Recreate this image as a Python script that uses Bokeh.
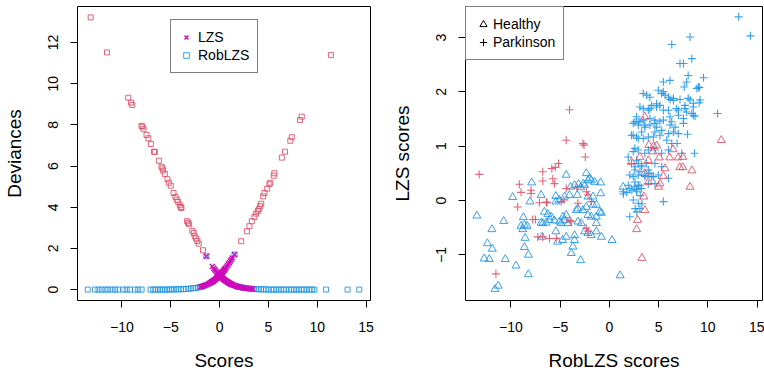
from bokeh.plotting import figure
from bokeh.layouts import row
from bokeh.models import FixedTicker, Legend, LegendItem, Range1d, CustomJSTickFormatter
from bokeh.embed import file_html
from bokeh.resources import INLINE

# ---------------- data ----------------
# Left panel: deviances vs scores
lzs_rise_score = [-1.95, -1.8, -1.65, -1.5, -1.4, -1.3, -1.2, -1.1, -1.0, -0.95,
                  -0.9, -0.85, -0.8, -0.75, -0.7, -0.65, -0.6, -0.55, -0.5, -0.45,
                  -0.4, -0.35, -0.3, -0.25, -0.2, -0.15, -0.1, -0.05, 0.0, 0.05,
                  0.1, 0.15, 0.2, 0.25, 0.3, 0.35, 0.4, 0.45, 0.5, 0.55,
                  0.6, 0.7, 0.8, 0.9, 1.0, 1.1, 1.2, 1.3, 1.53]
lzs_rise_dev = [0.13, 0.15, 0.18, 0.20, 0.22, 0.24, 0.26, 0.29, 0.31, 0.33,
                0.34, 0.36, 0.37, 0.39, 0.40, 0.42, 0.44, 0.46, 0.47, 0.49,
                0.51, 0.54, 0.55, 0.58, 0.60, 0.62, 0.64, 0.67, 0.69, 0.72,
                0.74, 0.77, 0.80, 0.83, 0.85, 0.88, 0.91, 0.94, 0.97, 1.0,
                1.04, 1.10, 1.17, 1.24, 1.31, 1.39, 1.46, 1.54, 1.70]
lzs_fall_score = [-1.36, -0.74, -0.6, -0.5, -0.4, -0.3, -0.2, -0.1, 0.0, 0.05,
                  0.1, 0.15, 0.2, 0.25, 0.3, 0.35, 0.4, 0.45, 0.5, 0.55,
                  0.6, 0.65, 0.7, 0.75, 0.8, 0.85, 0.9, 0.95, 1.0, 1.05,
                  1.1, 1.15, 1.2, 1.25, 1.3, 1.4, 1.5, 1.6, 1.7, 1.8,
                  1.9, 2.0, 2.1, 2.2, 2.3, 2.4, 2.5, 2.6, 2.75, 2.9,
                  3.05, 3.2, 3.4]
lzs_fall_dev = [1.62, 1.12, 1.04, 0.97, 0.91, 0.85, 0.80, 0.74, 0.69, 0.67,
                0.64, 0.62, 0.60, 0.58, 0.55, 0.53, 0.51, 0.49, 0.47, 0.46,
                0.44, 0.42, 0.40, 0.39, 0.37, 0.36, 0.34, 0.33, 0.31, 0.30,
                0.29, 0.27, 0.26, 0.25, 0.24, 0.22, 0.20, 0.18, 0.17, 0.15,
                0.14, 0.13, 0.12, 0.11, 0.10, 0.09, 0.08, 0.07, 0.06, 0.05,
                0.05, 0.04, 0.03]

rob_ok_score = [-13.5, -12.75, -12.4, -12.07, -11.7, -11.4, -11.05, -10.7, -10.37, -9.86,
                -9.52, -9.18, -8.67, -8.33, -7.99, -7.07, -6.8, -6.55, -6.3, -6.1,
                -5.85, -5.6, -5.4, -5.15, -4.9, -4.7, -4.45, -4.2, -3.95, -3.7,
                -3.45, -3.2, -2.95, -2.7, -2.45, -2.2, -2.0, -1.8, -1.6, -1.36,
                1.2, 1.53, 1.8, 2.1, 2.4, 2.7, 3.0, 3.3, 3.5, 3.75,
                4.0, 4.25, 4.5, 4.75, 5.0, 5.3, 5.55, 5.8, 6.05, 6.3,
                6.55, 6.8, 7.1, 7.35, 7.6, 7.85, 8.1, 8.4, 8.65, 8.9,
                9.2, 9.45, 9.7, 10.9, 13.1, 14.3]
rob_ok_dev = [0, 0, 0, 0, 0, 0, 0, 0, 0, 0,
              0, 0, 0, 0, 0, 0, 0, 0, 0, 0,
              0, 0, 0, 0, 0.01, 0.01, 0.01, 0.01, 0.02, 0.02,
              0.03, 0.04, 0.05, 0.07, 0.08, 0.1, 0.12, 0.15, 0.18, 1.62,
              0.26, 1.7, 0.15, 0.12, 0.09, 0.07, 0.05, 0.04, 0.03, 0.02,
              0.02, 0.01, 0.01, 0.01, 0, 0, 0, 0, 0, 0,
              0, 0, 0, 0, 0, 0, 0, 0, 0, 0,
              0, 0, 0, 0, 0, 0]

rob_bad_score = [-13.2, -11.53, -9.35, -9.08, -8.94, -7.99, -7.89, -7.79, -7.48, -7.3,
                 -7.04, -6.73, -6.63, -6.22, -5.95, -5.85, -5.78, -5.61, -5.34, -5.2,
                 -5.0, -4.72, -4.52, -4.39, -4.24, -4.08, -3.98, -3.91, -3.33, -3.22,
                 -3.12, -2.79, -2.65, -2.55, -2.41, -2.28, -2.14, -1.7,
                 2.21, 2.79, 3.06, 3.3, 3.57, 3.74, 3.91, 4.01, 4.15, 4.26,
                 4.46, 4.59, 4.87, 5.1, 5.2, 5.55, 5.61, 6.37, 6.7, 7.24,
                 7.39, 8.23, 8.41, 11.4]
rob_bad_dev = [13.22, 11.52, 9.32, 9.08, 8.97, 7.95, 7.91, 7.79, 7.51, 7.35,
               7.07, 6.7, 6.68, 6.26, 5.97, 5.89, 5.78, 5.62, 5.36, 5.19,
               5.05, 4.69, 4.5, 4.37, 4.26, 4.1, 4.01, 3.96, 3.32, 3.24,
               3.17, 2.85, 2.75, 2.59, 2.48, 2.36, 2.23, 1.91,
               2.35, 2.83, 3.08, 3.32, 3.53, 3.69, 3.82, 3.9, 4.05, 4.17,
               4.53, 4.69, 4.9, 5.12, 5.19, 5.53, 5.65, 6.41, 6.7, 7.23,
               7.4, 8.24, 8.4, 11.39]

# Right panel: RobLZS scores (x) vs LZS scores (y)
healthy_blue_x = [-13.47, -10.74, -11.94, -12.4, -11.9, -12.72, -12.2, -10.58, -9.49, -11.3,
                  -11.63, -9.83, -8.06, -7.9, -6.94, -8.74, -8.98, -8.64, -8.36, -8.8,
                  -6.77, -6.84, -8.57, -8.64, -8.23, -8.23, -4.39, -2.35, -3.95, -3.54,
                  -3.13, -2.93, -1.84, -1.5, -0.89, -0.89, -5.44, -5.44, -5.1, -4.56,
                  -4.05, -3.27, -2.17, -1.67, -1.33, -1.67, -6.6, -6.26, -6.94, -6.43,
                  -6.09, -5.92, -5.58, -5.07, -4.9, -4.56, -4.39, -4.21, -4.72, -3.37,
                  -3.2, -2.69, -2.35, -2.17, -1.84, -1.33, -0.99, -0.82, -3.2, -2.86,
                  -2.52, -2.17, -1.84, -1.33, -1.33, -5.44, -5.27, -4.76, -4.39, -3.54,
                  -3.54, -3.71, -3.88, -2.93, -0.82, 0.27, 1.09, -2.17, -2.0, -2.52,
                  -2.65, 1.39]
healthy_blue_y = [-0.28, -0.38, -0.53, -0.79, -0.89, -1.07, -1.08, -1.08, -1.2, -1.57,
                  -1.63, 0.06, -0.02, 0.33, 0.10, -0.31, -0.47, -0.45, -0.47, -0.53,
                  -0.42, -0.67, -0.69, -0.86, -1.0, -1.36, 0.47, 0.50, 0.25, 0.28,
                  0.30, 0.24, 0.37, 0.34, 0.33, 0.13, 0.08, -0.02, 0.01, 0.07,
                  0.10, 0.10, 0.07, 0.07, -0.08, -0.08, -0.21, -0.25, -0.41, -0.41,
                  -0.36, -0.30, -0.37, -0.39, -0.42, -0.36, -0.27, -0.42, -0.30, -0.18,
                  -0.15, -0.18, -0.12, -0.27, -0.30, -0.30, -0.21, -0.23, -0.39, -0.42,
                  -0.57, -0.60, -0.64, -0.42, -0.57, -0.57, -0.76, -0.73, -0.67, -0.64,
                  -0.73, -0.85, -0.97, -1.1, -0.67, -0.73, -1.38, 0.37, 0.41, 0.28,
                  0.31, 0.25]

healthy_red_x = [11.36, 3.6, 4.0, 4.5, 4.8, 4.42, 6.46, 6.12, 6.97, 7.14,
                 5.07, 3.95, 3.1, 2.24, 5.64, 5.47, 3.95, 5.13, 3.5, 3.6,
                 2.86, 2.76, 3.3, 7.45, 7.45, 8.37, 8.19, 5.0, 3.6]
healthy_red_y = [1.11, 1.54, 1.02, 1.0, 1.01, 0.90, 0.94, 0.79, 0.79, 0.61,
                 0.79, 0.74, 0.80, 0.71, 0.59, 0.45, 0.34, 0.31, 0.07, -0.18,
                 -0.36, -0.53, -1.06, 0.80, 0.61, 0.55, 0.25, 0.25, 0.5]

parkinson_red_x = [-13.23, -9.15, -8.98, -7.96, -7.96, -6.77, -6.77, -7.11, -9.32, -7.79,
                   -7.52, -7.28, -11.53, -4.39, -2.69, -2.58, -2.45, -5.17, -5.5, -5.85,
                   -5.75, -5.58, -6.33, -4.39, -3.27, -2.35, -2.17, -1.84, -3.2, -4.9,
                   -4.62, -3.88, -2.35, -2.17, -6.77, -6.09, -5.4, -4.05, -6.4, -4.0]
parkinson_red_y = [0.48, 0.30, 0.15, 0.19, 0.13, 0.53, 0.36, -0.04, -0.12, -0.35,
                   -0.35, -0.67, -1.35, 1.11, 1.05, 1.02, 0.80, 0.68, 0.61, 0.59,
                   0.40, 0.31, -0.04, 0.22, 0.23, 0.16, 0.10, -0.02, -0.05, -0.02,
                   0.01, -0.39, -0.51, -0.56, -0.67, -0.70, -0.70, 1.67, -0.03, -0.37]

parkinson_blue_x = [13.13, 14.32, 8.19, 6.33, 8.37, 7.17, 7.52, 8.0, 9.56, 7.84,
                    7.6, 8.88, 9.12, 5.48, 6.15, 3.44, 3.78, 4.11, 4.97, 5.31,
                    5.65, 5.99, 6.15, 6.5, 7.17, 8.0, 8.19, 9.21, 9.12, 8.52,
                    3.1, 3.44, 3.95, 4.11, 4.8, 5.13, 6.8, 7.0, 7.67, 7.84,
                    8.37, 8.52, 8.7, 10.99, 2.76, 2.59, 2.93, 3.44, 4.11, 4.62,
                    5.13, 5.48, 6.15, 6.33, 7.52, 8.52, 7.93, 8.64, 5.48, 4.29,
                    4.8, 5.48, 5.99, 6.5, 7.67, 9.05, 2.93, 3.6, 4.11, 4.62,
                    7.0, 2.42, 2.93, 3.27, 3.95, 4.62, 5.31, 5.99, 6.5, 7.0,
                    2.59, 2.93, 3.6, 3.95, 4.62, 5.31, 5.99, 7.35, 6.87, 1.91,
                    2.24, 2.59, 3.27, 3.95, 4.62, 5.31, 2.42, 2.93, 3.6, 4.29,
                    4.97, 5.99, 1.91, 2.59, 3.1, 3.95, 4.62, 2.42, 3.1, 3.6,
                    4.8, 6.15, 6.67, 7.52, 2.24, 2.76, 3.44, 4.46, 5.13, 5.82,
                    6.33, 2.42, 2.76, 2.93, 3.27, 3.78, 2.59, 3.1, 2.07, 3.6,
                    4.11, 4.46, 2.59, 2.93, 3.27, 2.07, 1.39, 2.76, 2.42, 2.93,
                    3.1, 2.07, 5.48, 2.62, 2.79, 3.3, 3.13, 2.79, 2.28, 1.77,
                    1.43]
parkinson_blue_y = [3.38, 3.03, 3.01, 2.87, 2.61, 2.52, 2.52, 2.3, 2.26, 2.18,
                    2.09, 2.06, 2.08, 2.18, 2.21, 1.97, 1.94, 1.90, 2.03, 1.97,
                    1.94, 1.90, 1.86, 1.88, 1.86, 1.88, 1.85, 1.85, 1.80, 1.79,
                    1.72, 1.69, 1.66, 1.69, 1.72, 1.75, 1.69, 1.66, 1.69, 1.63,
                    1.60, 1.72, 1.55, 1.6, 1.54, 1.45, 1.45, 1.48, 1.51, 1.48,
                    1.45, 1.48, 1.54, 1.45, 1.51, 1.57, 1.22, 0.87, 2.0, 1.75,
                    1.78, 1.66, 1.66, 1.84, 1.75, 2.09, 1.39, 1.35, 1.39, 1.42,
                    1.57, 1.2, 1.14, 1.26, 1.17, 1.26, 1.29, 1.23, 1.26, 1.23,
                    0.96, 0.93, 0.87, 0.93, 0.93, 0.87, 0.93, 0.87, 1.05, 0.80,
                    0.68, 0.62, 0.62, 0.56, 0.68, 0.62, 0.44, 0.47, 0.44, 0.44,
                    0.47, 0.41, 0.28, 0.25, 0.28, 0.31, 0.31, 1.42, 1.45, 1.39,
                    1.35, 1.39, 1.35, 1.42, 1.2, 1.17, 1.14, 1.17, 1.2, 1.11,
                    1.05, 0.9, 0.74, 0.68, 0.65, 0.68, 0.56, 0.53, 0.47, 0.47,
                    0.50, 0.44, 0.34, 0.28, 0.22, 0.22, 0.16, 0.16, 0.01, -0.05,
                    -0.15, -0.30, -0.02, -0.15, -0.21, -0.06, 0.09, 0.2, 0.19, 0.15,
                    0.12]

x_ticks = [-10, -5, 0, 5, 10, 15]
dev_ticks = [0, 2, 4, 6, 8, 10, 12]
lzs_ticks = [-1, 0, 1, 2, 3]

# ---------------- style ----------------
RED = "#DF536B"
BLUE = "#2297E6"
MAG = "#CD0BBC"
FONT = "Liberation Sans"
MINUS_JS = "return tick < 0 ? '\u2212' + Math.abs(tick) : String(tick);"


def style_axes(p, xlabel, ylabel, xbounds, ybounds, yticks):
    p.grid.visible = False
    p.outline_line_color = "black"
    p.outline_line_width = 1
    p.outline_line_alpha = 1
    p.background_fill_color = "white"
    p.border_fill_color = "white"
    for ax, lab, b, t in ((p.xaxis[0], xlabel, xbounds, x_ticks), (p.yaxis[0], ylabel, ybounds, yticks)):
        ax.axis_label = lab
        ax.ticker = FixedTicker(ticks=t)
        ax.formatter = CustomJSTickFormatter(code=MINUS_JS)
        ax.bounds = b
        ax.axis_label_text_font = FONT
        ax.axis_label_text_font_size = "19px"
        ax.axis_label_text_font_style = "normal"
        ax.axis_label_text_color = "black"
        ax.major_label_text_font = FONT
        ax.major_label_text_font_size = "14px"
        ax.major_label_text_color = "black"
        ax.major_tick_out = 7
        ax.major_tick_in = 0
        ax.minor_tick_line_color = None
        ax.axis_line_color = "black"
        ax.major_tick_line_color = "black"
    p.xaxis[0].major_label_standoff = 14
    p.xaxis[0].axis_label_standoff = 15
    p.yaxis[0].major_label_standoff = 12
    p.yaxis[0].axis_label_standoff = 21
    p.yaxis[0].major_label_orientation = "vertical"


def style_legend(lg, glyph_w, pad, standoff):
    lg.label_text_font = FONT
    lg.label_text_font_size = "14px"
    lg.label_text_color = "black"
    lg.label_height = 18
    lg.glyph_height = 18
    lg.glyph_width = glyph_w
    lg.label_standoff = standoff
    lg.spacing = 0
    lg.padding = pad
    lg.margin = 0
    lg.border_line_color = "black"
    lg.border_line_width = 1
    lg.background_fill_color = "white"
    lg.background_fill_alpha = 1


# ---------------- left panel ----------------
p1 = figure(width=382, height=374, x_range=Range1d(-14.55, 15.45), y_range=Range1d(-0.53, 13.75),
            output_backend="svg", toolbar_location=None,
            min_border_left=76, min_border_right=12, min_border_top=6, min_border_bottom=74)
style_axes(p1, "Scores", "Deviances", (-10, 15), (0, 12), dev_ticks)

r_ok = p1.scatter(rob_ok_score, rob_ok_dev, marker="square", size=5, fill_color=None,
                  line_color=BLUE, line_width=1, line_alpha=0.9)
p1.scatter(rob_bad_score, rob_bad_dev, marker="square", size=5, fill_color=None,
           line_color=RED, line_width=1, line_alpha=0.9)
r_lzs = p1.scatter(lzs_rise_score + lzs_fall_score, lzs_rise_dev + lzs_fall_dev, marker="x", size=7,
                   line_color=MAG, line_width=1.4)

lg1 = Legend(items=[LegendItem(label="LZS", renderers=[r_lzs]),
                    LegendItem(label="RobLZS", renderers=[r_ok])],
             location=(93, 227))
style_legend(lg1, 14, 8, 5)
p1.add_layout(lg1)

# ---------------- right panel ----------------
p2 = figure(width=382, height=374, x_range=Range1d(-14.62, 15.55), y_range=Range1d(-1.84, 3.57),
            output_backend="svg", toolbar_location=None,
            min_border_left=83, min_border_right=2, min_border_top=6, min_border_bottom=74)
style_axes(p2, "RobLZS scores", "LZS scores", (-10, 15), (-1, 3), lzs_ticks)

p2.scatter(healthy_blue_x, healthy_blue_y, marker="triangle", size=8, fill_color=None,
           line_color=BLUE, line_width=1, line_alpha=0.9)
p2.scatter(parkinson_blue_x, parkinson_blue_y, marker="cross", size=8,
           line_color=BLUE, line_width=1.1, line_alpha=0.9)
p2.scatter(healthy_red_x, healthy_red_y, marker="triangle", size=8, fill_color=None,
           line_color=RED, line_width=1, line_alpha=0.9)
p2.scatter(parkinson_red_x, parkinson_red_y, marker="cross", size=8,
           line_color=RED, line_width=1.1, line_alpha=0.9)

# legend-only renderers (black symbols), placed outside the visible range
leg_h = p2.scatter([100], [100], marker="triangle", size=9, fill_color=None, line_color="black", line_width=1)
leg_p = p2.scatter([100], [100], marker="cross", size=9, line_color="black", line_width=1)
lg2 = Legend(items=[LegendItem(label="Healthy", renderers=[leg_h]),
                    LegendItem(label="Parkinson", renderers=[leg_p])],
             location="top_left")
style_legend(lg2, 18, 8, 1)
p2.add_layout(lg2)

layout = row(p1, p2)
open("out.html", "w").write(file_html(layout, INLINE))
